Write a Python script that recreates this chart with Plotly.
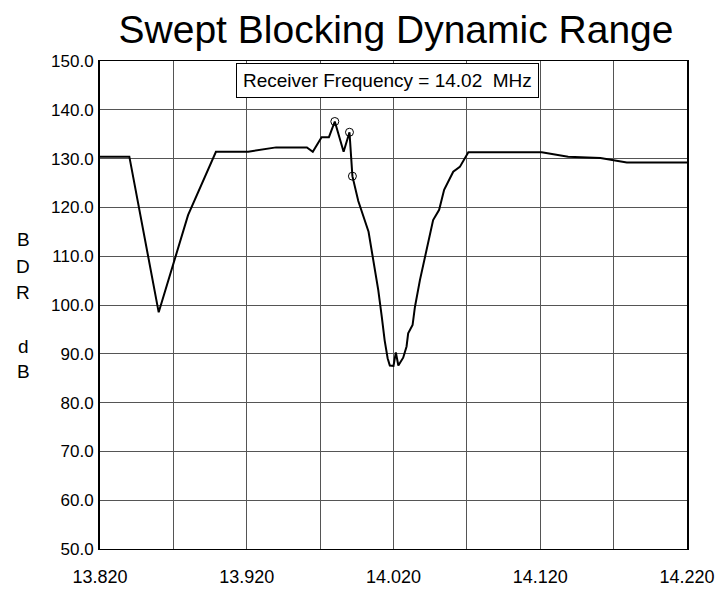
import plotly.graph_objects as go

# Swept blocking dynamic range sweep around a 14.02 MHz receiver frequency
freq_mhz = [
    13.820, 13.840, 13.860, 13.880, 13.899, 13.921, 13.940, 13.961,
    13.965, 13.971, 13.976, 13.980, 13.986, 13.990, 13.992, 13.996,
    14.003, 14.006, 14.0096, 14.012, 14.014, 14.016, 14.0175, 14.020,
    14.0216, 14.0233, 14.0266, 14.0289, 14.030, 14.033, 14.0346, 14.038,
    14.0414, 14.0443, 14.047, 14.0511, 14.0545, 14.0607, 14.0652, 14.071,
    14.121, 14.139, 14.161, 14.179, 14.220,
]
bdr_db = [
    130.4, 130.4, 98.5, 118.4, 131.4, 131.4, 132.3, 132.3,
    131.4, 134.4, 134.4, 137.6, 131.4, 135.4, 126.4, 121.3,
    115.0, 109.6, 103.1, 97.6, 92.7, 89.1, 87.6, 87.5,
    90.3, 87.6, 89.2, 91.5, 94.2, 95.9, 99.6, 105.1,
    109.9, 114.0, 117.4, 119.5, 123.6, 127.3, 128.3, 131.3,
    131.3, 130.4, 130.1, 129.2, 129.2,
]

# Marked measurement points near the receiver frequency
marker_freq = [13.980, 13.990, 13.992]
marker_bdr = [137.6, 135.4, 126.4]

x_grid = [13.820 + 0.05 * i for i in range(9)]
x_labels = ["13.820", "", "13.920", "", "14.020", "", "14.120", "", "14.220"]
y_grid = list(range(50, 151, 10))
y_labels = [f"{v:.1f}" for v in y_grid]
y_title_letters = ["B", "D", "R", "", "d", "B"]

font_family = "Arial, Liberation Sans, sans-serif"

fig = go.Figure()
fig.add_trace(go.Scatter(
    x=freq_mhz, y=bdr_db, mode="lines",
    line=dict(color="black", width=2),
    hoverinfo="skip", showlegend=False,
))
fig.add_trace(go.Scatter(
    x=marker_freq, y=marker_bdr, mode="markers",
    marker=dict(symbol="circle-open", size=8, color="black",
                line=dict(width=1, color="black")),
    hoverinfo="skip", showlegend=False,
))

fig.update_layout(
    width=727, height=594,
    margin=dict(l=100, r=40, t=61, b=45),
    paper_bgcolor="white", plot_bgcolor="white",
    font=dict(family=font_family, color="black", size=16),
    title=dict(
        text="Swept Blocking Dynamic Range",
        font=dict(family=font_family, size=39, color="black"),
        x=396 / 727, xref="container", xanchor="center",
        y=0.95, yref="container", yanchor="middle",
    ),
    xaxis=dict(
        range=[13.820, 14.220],
        tickmode="array", tickvals=x_grid, ticktext=x_labels,
        showgrid=True, gridcolor="#555555", gridwidth=1,
        showline=True, linecolor="black", linewidth=1, mirror=True,
        ticks="", ticklabelstandoff=11, automargin=False,
        tickfont=dict(size=18),
        zeroline=False,
    ),
    yaxis=dict(
        range=[50, 150],
        tickmode="array", tickvals=y_grid, ticktext=y_labels,
        showgrid=True, gridcolor="#555555", gridwidth=1,
        showline=True, linecolor="black", linewidth=2, mirror=True,
        ticks="", ticklabelstandoff=1, automargin=False,
        tickfont=dict(size=17),
        zeroline=False,
    ),
)

# Receiver frequency caption box
fig.add_annotation(
    text="Receiver Frequency = 14.02\u00a0 MHz",
    xref="paper", yref="paper", x=0.489, y=0.96,
    xanchor="center", yanchor="middle", showarrow=False,
    font=dict(size=19, color="black"),
    bgcolor="white", bordercolor="black", borderwidth=1, borderpad=6,
)

# Vertical stacked axis title
y_letter_pos = [113.5, 107.8, 102.5, 97.0, 91.4, 86.3]
for letter, yv in zip(y_title_letters, y_letter_pos):
    if letter:
        fig.add_annotation(
            text=letter, xref="paper", yref="y",
            x=-0.131, y=yv, xanchor="center", yanchor="middle",
            showarrow=False, font=dict(size=19, color="black"),
        )

fig.write_html("out.html")
